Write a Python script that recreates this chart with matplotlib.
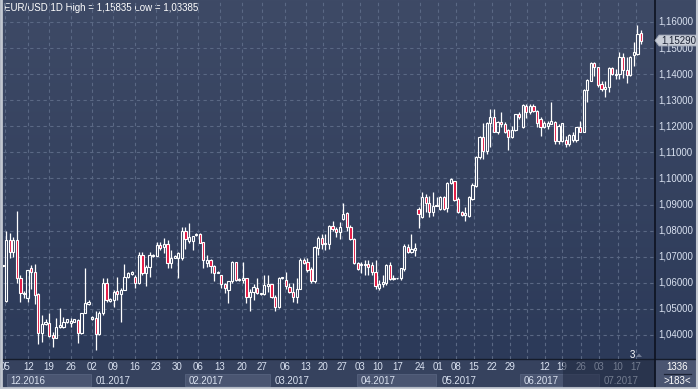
import numpy as np
import matplotlib
matplotlib.use('Agg')
import matplotlib.pyplot as plt
from matplotlib.patches import Rectangle, Polygon
from matplotlib.transforms import blended_transform_factory

plt.rcParams['font.family'] = ['Liberation Sans', 'DejaVu Sans']

# EUR/USD daily candles, Dec 2016 - Jul 2017
opens = [
    1.0665, 1.0531, 1.0765, 1.0720, 1.0765, 1.0618, 1.0560, 1.0540, 1.0655, 1.0642,
    1.0557, 1.0409, 1.0442, 1.0445, 1.0400, 1.0387, 1.0432, 1.0432, 1.0448, 1.0445,
    1.0451, 1.0458, 1.0406, 1.0483, 1.0520, 1.0462, 1.0464, 1.0404, 1.0483, 1.0598,
    1.0532, 1.0534, 1.0570, 1.0557, 1.0573, 1.0624, 1.0635, 1.0621, 1.0598, 1.0707,
    1.0637, 1.0660, 1.0702, 1.0704, 1.0745, 1.0736, 1.0749, 1.0675, 1.0697, 1.0697,
    1.0697, 1.0800, 1.0761, 1.0762, 1.0782, 1.0788, 1.0755, 1.0675, 1.0688, 1.0665,
    1.0639, 1.0630, 1.0596, 1.0573, 1.0605, 1.0678, 1.0609, 1.0611, 1.0618, 1.0547,
    1.0566, 1.0579, 1.0557, 1.0557, 1.0586, 1.0594, 1.0545, 1.0506, 1.0618, 1.0611,
    1.0585, 1.0566, 1.0545, 1.0578, 1.0688, 1.0680, 1.0653, 1.0605, 1.0734, 1.0771,
    1.0749, 1.0749, 1.0819, 1.0806, 1.0794, 1.0844, 1.0868, 1.0814, 1.0768, 1.0676,
    1.0670, 1.0668, 1.0673, 1.0670, 1.0643, 1.0580, 1.0596, 1.0599, 1.0668, 1.0615,
    1.0617, 1.0617, 1.0651, 1.0738, 1.0719, 1.0726, 1.0883, 1.0851, 1.0928, 1.0905,
    1.0870, 1.0896, 1.0883, 1.0930, 1.0887, 1.0983, 1.0989, 1.0921, 1.0870, 1.0861,
    1.0858, 1.0921, 1.0972, 1.1081, 1.1160, 1.1104, 1.1211, 1.1234, 1.1180, 1.1217,
    1.1208, 1.1186, 1.1160, 1.1186, 1.1247, 1.1196, 1.1279, 1.1253, 1.1279, 1.1259,
    1.1228, 1.1198, 1.1202, 1.1208, 1.1217, 1.1142, 1.1145, 1.1149, 1.1132, 1.1147,
    1.1147, 1.1198, 1.1180, 1.1339, 1.1375, 1.1441, 1.1426, 1.1362, 1.1343, 1.1349,
    1.1423, 1.1398, 1.1400, 1.1465, 1.1416, 1.1397, 1.1474, 1.1477, 1.1557,
]
highs = [
    1.0670, 1.0797, 1.0790, 1.0775, 1.0876, 1.0630, 1.0570, 1.0650, 1.0670, 1.0673,
    1.0560, 1.0477, 1.0460, 1.0483, 1.0413, 1.0464, 1.0502, 1.0470, 1.0462, 1.0464,
    1.0462, 1.0460, 1.0483, 1.0656, 1.0534, 1.0472, 1.0490, 1.0490, 1.0618, 1.0618,
    1.0540, 1.0573, 1.0624, 1.0580, 1.0673, 1.0643, 1.0645, 1.0630, 1.0720, 1.0720,
    1.0669, 1.0720, 1.0709, 1.0758, 1.0758, 1.0772, 1.0765, 1.0726, 1.0705, 1.0720,
    1.0813, 1.0813, 1.0829, 1.0780, 1.0790, 1.0790, 1.0756, 1.0707, 1.0690, 1.0669,
    1.0645, 1.0631, 1.0598, 1.0605, 1.0682, 1.0678, 1.0618, 1.0678, 1.0618, 1.0575,
    1.0596, 1.0618, 1.0561, 1.0630, 1.0630, 1.0596, 1.0554, 1.0621, 1.0624, 1.0643,
    1.0598, 1.0598, 1.0618, 1.0694, 1.0694, 1.0694, 1.0660, 1.0742, 1.0778, 1.0788,
    1.0788, 1.0823, 1.0836, 1.0815, 1.0832, 1.0905, 1.0870, 1.0823, 1.0772, 1.0678,
    1.0678, 1.0687, 1.0688, 1.0679, 1.0686, 1.0611, 1.0630, 1.0674, 1.0681, 1.0630,
    1.0620, 1.0655, 1.0747, 1.0747, 1.0787, 1.0754, 1.0889, 1.0950, 1.0941, 1.0931,
    1.0947, 1.0928, 1.0934, 1.0934, 1.0985, 1.1002, 1.0992, 1.0930, 1.0877, 1.0892,
    1.0934, 1.0981, 1.1087, 1.1164, 1.1211, 1.1215, 1.1266, 1.1266, 1.1221, 1.1253,
    1.1215, 1.1190, 1.1202, 1.1249, 1.1253, 1.1285, 1.1285, 1.1285, 1.1285, 1.1262,
    1.1234, 1.1221, 1.1221, 1.1295, 1.1221, 1.1208, 1.1211, 1.1164, 1.1170, 1.1177,
    1.1196, 1.1221, 1.1343, 1.1381, 1.1445, 1.1445, 1.1428, 1.1372, 1.1374, 1.1426,
    1.1426, 1.1421, 1.1484, 1.1480, 1.1465, 1.1471, 1.1523, 1.1587, 1.1568,
]
lows = [
    1.0660, 1.0525, 1.0695, 1.0700, 1.0598, 1.0528, 1.0540, 1.0528, 1.0575, 1.0518,
    1.0365, 1.0374, 1.0440, 1.0394, 1.0353, 1.0387, 1.0425, 1.0426, 1.0446, 1.0429,
    1.0448, 1.0371, 1.0403, 1.0483, 1.0516, 1.0458, 1.0342, 1.0400, 1.0477, 1.0528,
    1.0528, 1.0509, 1.0534, 1.0451, 1.0573, 1.0618, 1.0630, 1.0579, 1.0596, 1.0630,
    1.0586, 1.0624, 1.0700, 1.0701, 1.0724, 1.0716, 1.0656, 1.0656, 1.0695, 1.0617,
    1.0688, 1.0729, 1.0752, 1.0726, 1.0780, 1.0751, 1.0656, 1.0662, 1.0637, 1.0605,
    1.0637, 1.0579, 1.0560, 1.0522, 1.0598, 1.0605, 1.0605, 1.0598, 1.0522, 1.0490,
    1.0535, 1.0557, 1.0553, 1.0553, 1.0566, 1.0541, 1.0493, 1.0502, 1.0615, 1.0575,
    1.0560, 1.0528, 1.0524, 1.0575, 1.0672, 1.0643, 1.0601, 1.0601, 1.0707, 1.0729,
    1.0727, 1.0730, 1.0800, 1.0775, 1.0769, 1.0839, 1.0797, 1.0765, 1.0673, 1.0650,
    1.0637, 1.0630, 1.0630, 1.0630, 1.0575, 1.0571, 1.0584, 1.0593, 1.0612, 1.0611,
    1.0616, 1.0612, 1.0647, 1.0716, 1.0716, 1.0704, 1.0812, 1.0849, 1.0870, 1.0851,
    1.0858, 1.0894, 1.0879, 1.0879, 1.0870, 1.0979, 1.0915, 1.0866, 1.0857, 1.0836,
    1.0854, 1.0918, 1.0969, 1.1075, 1.1075, 1.1094, 1.1122, 1.1177, 1.1170, 1.1196,
    1.1173, 1.1109, 1.1157, 1.1183, 1.1228, 1.1194, 1.1232, 1.1247, 1.1253, 1.1196,
    1.1164, 1.1193, 1.1189, 1.1208, 1.1132, 1.1134, 1.1138, 1.1119, 1.1126, 1.1138,
    1.1138, 1.1177, 1.1177, 1.1292, 1.1372, 1.1394, 1.1352, 1.1336, 1.1311, 1.1330,
    1.1397, 1.1381, 1.1381, 1.1387, 1.1368, 1.1394, 1.1432, 1.1474, 1.1516,
]
closes = [
    1.0667, 1.0765, 1.0720, 1.0765, 1.0618, 1.0560, 1.0556, 1.0650, 1.0642, 1.0555,
    1.0409, 1.0442, 1.0450, 1.0396, 1.0387, 1.0432, 1.0438, 1.0451, 1.0460, 1.0455,
    1.0460, 1.0406, 1.0483, 1.0524, 1.0525, 1.0467, 1.0404, 1.0483, 1.0598, 1.0534,
    1.0536, 1.0566, 1.0557, 1.0573, 1.0624, 1.0637, 1.0640, 1.0598, 1.0707, 1.0637,
    1.0660, 1.0707, 1.0707, 1.0746, 1.0733, 1.0749, 1.0675, 1.0694, 1.0702, 1.0714,
    1.0800, 1.0767, 1.0774, 1.0780, 1.0788, 1.0753, 1.0688, 1.0688, 1.0665, 1.0639,
    1.0643, 1.0596, 1.0579, 1.0605, 1.0678, 1.0609, 1.0615, 1.0618, 1.0547, 1.0566,
    1.0583, 1.0560, 1.0560, 1.0592, 1.0596, 1.0545, 1.0506, 1.0618, 1.0622, 1.0586,
    1.0566, 1.0545, 1.0578, 1.0688, 1.0675, 1.0650, 1.0605, 1.0737, 1.0772, 1.0749,
    1.0753, 1.0819, 1.0807, 1.0794, 1.0813, 1.0865, 1.0814, 1.0768, 1.0676, 1.0652,
    1.0674, 1.0673, 1.0662, 1.0643, 1.0588, 1.0596, 1.0604, 1.0667, 1.0615, 1.0620,
    1.0619, 1.0655, 1.0741, 1.0719, 1.0728, 1.0734, 1.0864, 1.0928, 1.0905, 1.0870,
    1.0896, 1.0900, 1.0930, 1.0883, 1.0983, 1.0998, 1.0918, 1.0870, 1.0861, 1.0866,
    1.0930, 1.0975, 1.1081, 1.1160, 1.1104, 1.1211, 1.1234, 1.1180, 1.1217, 1.1208,
    1.1177, 1.1160, 1.1186, 1.1247, 1.1234, 1.1283, 1.1253, 1.1279, 1.1257, 1.1211,
    1.1198, 1.1211, 1.1211, 1.1219, 1.1142, 1.1202, 1.1211, 1.1132, 1.1168, 1.1168,
    1.1196, 1.1180, 1.1339, 1.1377, 1.1441, 1.1426, 1.1359, 1.1343, 1.1352, 1.1423,
    1.1400, 1.1400, 1.1465, 1.1416, 1.1397, 1.1465, 1.1484, 1.1555, 1.1529,
]

day_labels = ['05', '12', '19', '26', '02', '09', '16', '23', '30', '06', '13', '20', '27',
              '06', '13', '20', '27', '03', '10', '17', '24', '01', '08', '15', '22', '29',
              '', '12', '19', '26', '03', '10', '17']
day_pos = [0.7, 7.2, 13.0, 19.1, 25.0, 30.8, 36.9, 42.8, 48.6, 54.5, 60.6, 66.8, 72.3,
           78.8, 84.6, 89.4, 94.6, 99.7, 104.7, 110.3, 116.4, 121.4, 126.4, 131.4, 136.5, 141.5,
           146.2, 151.2, 156.0, 161.3, 166.3, 171.5, 176.6]
month_labels = ['12.2016', '01.2017', '02.2017', '03.2017', '04.2017', '05.2017', '06.2017', '07.2017']
month_start = [1.2, 25.0, 50.9, 74.9, 98.8, 121.2, 144.3, 166.6]
price_levels = [1.04, 1.05, 1.06, 1.07, 1.08, 1.09, 1.10, 1.11, 1.12, 1.13, 1.14, 1.15, 1.16]

W, H = 698, 389
fig = plt.figure(figsize=(W / 100, H / 100), dpi=100)

# base layer in pixel coordinates
base = fig.add_axes([0, 0, 1, 1], zorder=0)
base.set_xlim(0, W)
base.set_ylim(H, 0)
base.axis('off')
grad = np.linspace(0, 1, 256)[:, None]
top_c = np.array([62, 74, 102]) / 255
bot_c = np.array([44, 58, 89]) / 255
img = top_c[None, None, :] * (1 - grad[..., None]) + bot_c[None, None, :] * grad[..., None]
base.imshow(img, extent=[0, W, 359, 0], aspect='auto', zorder=0)

# main chart
ax = fig.add_axes([3 / W, 1 - 359 / H, 652 / W, 358 / H], zorder=1)
ax.patch.set_alpha(0)
ax.set_xlim(0.14, 181.9)
ax.set_ylim(1.16 - 337 / 2608, 1.16 + 21 / 2608)
for s in ax.spines.values():
    s.set_visible(False)
ax.set_xticks([])
ax.set_yticks([])

grid_c = '#5a6884'
for p in price_levels:
    ax.axhline(p, color=grid_c, lw=0.8, ls=(0, (3, 3)), zorder=1)
for p in day_pos:
    ax.axvline(p, color=grid_c, lw=0.8, ls=(0, (3, 3)), zorder=1)

o = np.array(opens)
h = np.array(highs)
l = np.array(lows)
c = np.array(closes)
x = np.arange(len(o))
top = np.maximum(o, c)
bot = np.minimum(o, c)
ax.vlines(x, top, h, color='white', lw=0.9, zorder=3)
ax.vlines(x, l, bot, color='white', lw=0.9, zorder=3)
height = np.maximum(top - bot, 0.00012)
faces = ['#e3123e' if cc < oo else 'none' for oo, cc in zip(o, c)]
ax.bar(x, height, bottom=bot, width=0.62, color=faces, edgecolor='white', linewidth=0.8, zorder=4)

# right price axis
ytr = blended_transform_factory(base.transData, ax.transData)
txt_c = '#d9e1f0'
for p in price_levels:
    base.text(658, p, f'{p:.5f}'.replace('.', ','), transform=ytr, color=txt_c,
              fontsize=7, va='center', ha='left', zorder=5)
last = closes[-1]
tag = Polygon([(655, last), (659, last + 0.0021), (697, last + 0.0021),
               (697, last - 0.0021), (659, last - 0.0021)], closed=True,
              transform=ytr, facecolor='#c9ced8', edgecolor='#9aa2b2', lw=0.6, zorder=6)
base.add_patch(tag)
base.text(661, last, f'{last:.5f}'.replace('.', ','), transform=ytr, color='#1b2234',
          fontsize=7, va='center', ha='left', zorder=7)

# bottom date strip
base.add_patch(Rectangle((0, 359), W, 30, facecolor='#36425e', edgecolor='none', zorder=1))
xtr = blended_transform_factory(ax.transData, base.transData)
month_end = month_start[1:] + [181.9]
for i, (lab, a, b) in enumerate(zip(month_labels, month_start, month_end)):
    if i % 2 == 0:
        base.add_patch(Rectangle((a, 374), b - a - 0.3, 12, transform=xtr,
                                 facecolor='#4a5571', edgecolor='#56627e', lw=0.6, zorder=2))
    base.text(a + 1.1, 380.5, lab, transform=xtr, color=txt_c, fontsize=7,
              va='center', ha='left', zorder=3)
for p, lab in zip(day_pos, day_labels):
    base.text(p, 367.5, lab, transform=xtr, color=txt_c, fontsize=7,
              va='center', ha='center', zorder=3, clip_on=False)
# greyed-out tail of the strip
base.add_patch(Rectangle((563, 359), 92, 30, facecolor='#1f2940', alpha=0.55,
                         edgecolor='none', zorder=4))

# lines and corner box
base.plot([0, W], [359, 359], color='#151c2b', lw=1.0, zorder=5)
base.plot([655, 655], [0, H], color='#0d1220', lw=1.2, zorder=5)
base.add_patch(Rectangle((655.5, 359.5), 41, 27.5, facecolor='#4a5571', edgecolor='none', zorder=4))
base.text(677, 367, '1336', color='white', fontsize=7, ha='center', va='center', zorder=6)
base.plot([664, 691], [373.5, 373.5], color='#1c2335', lw=0.9, zorder=6)
base.text(677, 380.5, '>183<', color='white', fontsize=7, ha='center', va='center', zorder=6)

# scroll marker
base.text(632, 355, '3', color='white', fontsize=7, ha='center', va='center', zorder=6)
base.add_patch(Polygon([(636, 357), (642, 357), (639, 353.5)], closed=True,
                       facecolor='#6e7890', edgecolor='none', zorder=6))

# title
base.text(4, 8, 'EUR/USD 1D High = 1,15835 Low = 1,03385', color='white', fontsize=7,
          va='center', ha='left', zorder=6)

# outer frame
base.plot([1, 1], [0, H], color='#c3c8d1', lw=2, zorder=8)
base.plot([0, W], [H - 1, H - 1], color='#c3c8d1', lw=2, zorder=8)
base.plot([W - 1, W - 1], [0, H], color='#c3c8d1', lw=1.5, zorder=8)

fig.savefig('out.png', dpi=100)
